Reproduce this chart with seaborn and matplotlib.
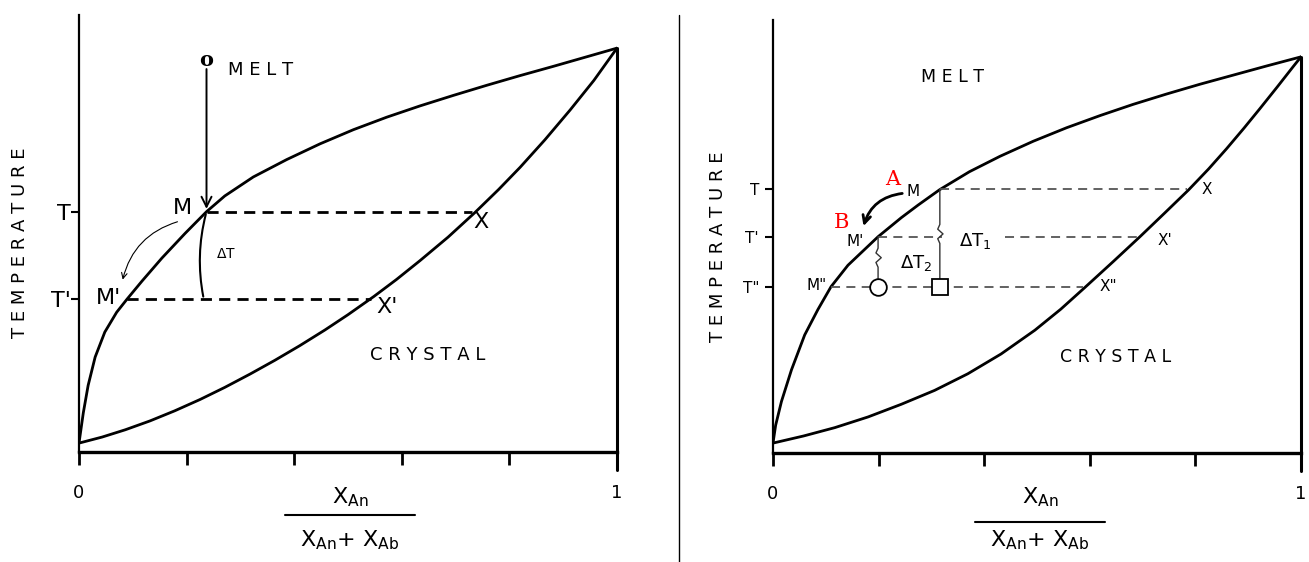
import matplotlib
matplotlib.use("Agg")
import matplotlib.pyplot as plt
import seaborn as sns
from matplotlib.lines import Line2D
from matplotlib.patches import FancyArrowPatch

# x = X_An / (X_An + X_Ab), T scaled so the x axis is 0 and the pure An end is 1
left_liq_x = [0.0, 0.008, 0.017, 0.030, 0.048, 0.070, 0.089, 0.117, 0.154, 0.197, 0.237,
              0.271, 0.324, 0.386, 0.448, 0.51, 0.572, 0.634, 0.696, 0.758, 0.82, 0.882, 1.0]
left_liq_t = [0.022, 0.097, 0.165, 0.235, 0.297, 0.346, 0.378, 0.423, 0.48, 0.541, 0.595,
              0.634, 0.681, 0.724, 0.763, 0.798, 0.829, 0.857, 0.883, 0.908, 0.932, 0.955, 1.0]
left_sol_x = [0.0, 0.043, 0.086, 0.132, 0.178, 0.225, 0.271, 0.318, 0.364, 0.41, 0.457, 0.50,
              0.548, 0.59, 0.634, 0.686, 0.736, 0.78, 0.82, 0.866, 0.913, 0.957, 1.0]
left_sol_t = [0.022, 0.037, 0.055, 0.077, 0.102, 0.130, 0.160, 0.193, 0.227, 0.263, 0.302, 0.340,
              0.385, 0.427, 0.474, 0.532, 0.593, 0.650, 0.705, 0.773, 0.847, 0.920, 1.0]

right_liq_x = [0.0, 0.005, 0.016, 0.035, 0.06, 0.085, 0.11, 0.142, 0.199, 0.243, 0.275, 0.316,
               0.372, 0.43, 0.493, 0.556, 0.62, 0.682, 0.745, 0.809, 0.872, 0.935, 1.0]
right_liq_t = [0.025, 0.07, 0.13, 0.21, 0.298, 0.362, 0.42, 0.474, 0.546, 0.594, 0.626, 0.665,
               0.71, 0.749, 0.787, 0.821, 0.852, 0.88, 0.906, 0.931, 0.954, 0.977, 1.0]
right_sol_x = [0.0, 0.058, 0.117, 0.18, 0.243, 0.306, 0.369, 0.432, 0.496, 0.545, 0.59, 0.645,
               0.695, 0.742, 0.787, 0.825, 0.859, 0.892, 0.922, 0.955, 0.985, 1.0]
right_sol_t = [0.025, 0.043, 0.064, 0.091, 0.123, 0.158, 0.2, 0.25, 0.31, 0.363, 0.417, 0.484,
               0.546, 0.606, 0.664, 0.717, 0.768, 0.82, 0.869, 0.924, 0.975, 1.0]

# tie lines: temperature levels, melt composition M, crystal composition X
left_levels = [0.595, 0.378]
left_m = [0.237, 0.089]
left_xc = [0.73, 0.542]
right_levels = [0.666, 0.546, 0.42]
right_m = [0.316, 0.199, 0.11]
right_xc = [0.785, 0.693, 0.588]

xticks = [0, 0.2, 0.4, 0.6, 0.8, 1.0]
xticklabels = ["0", "", "", "", "", "1"]

sns.set_style("white")
plt.rcParams["font.family"] = ["DejaVu Sans"]
plt.rcParams["mathtext.fontset"] = "dejavusans"
for key in ["text.color", "axes.labelcolor", "xtick.color", "ytick.color"]:
    plt.rcParams[key] = "black"

W, H = 1309, 562
fig = plt.figure(figsize=(13.09, 5.62), dpi=100)
axL = fig.add_axes([79 / W, (H - 452) / H, 538 / W, 437 / H])
axR = fig.add_axes([773 / W, (H - 453) / H, 528 / W, 433 / H])


def frame(ax, ytop, levels, labels, lsize, lpad):
    ax.set_xlim(0, 1)
    ax.set_ylim(0, ytop)
    ax.spines["top"].set_visible(False)
    ax.spines["right"].set_visible(False)
    ax.spines["left"].set_linewidth(1.6)
    ax.spines["bottom"].set_linewidth(2.4)
    ax.spines["left"].set_color("k")
    ax.spines["bottom"].set_color("k")
    ax.plot([1, 1], [-0.045, 1], color="k", lw=2.2, clip_on=False)
    ax.set_xticks(xticks)
    ax.set_xticklabels(xticklabels)
    ax.tick_params(axis="x", direction="out", length=9, width=2, pad=14,
                   labelsize=13, bottom=True)
    ax.set_yticks(levels)
    ax.set_yticklabels(labels)
    ax.tick_params(axis="y", direction="out", length=6, width=1.5, pad=lpad,
                   labelsize=lsize, left=True)
    ax.set_xlabel("")
    ax.set_ylabel("")


for ax, lx, lt, sx, st in [(axL, left_liq_x, left_liq_t, left_sol_x, left_sol_t),
                           (axR, right_liq_x, right_liq_t, right_sol_x, right_sol_t)]:
    sns.lineplot(x=lx, y=lt, ax=ax, color="k", lw=2, sort=False, estimator=None)
    sns.lineplot(x=sx, y=st, ax=ax, color="k", lw=2, sort=False, estimator=None)

frame(axL, 1.082, left_levels, ["T", "T'"], 16, 0)
frame(axR, 1.093, right_levels, ["T", "T'", 'T"'], 11, 4)

# ---- left panel
for t, m, xc in zip(left_levels, left_m, left_xc):
    axL.plot([m, xc], [t, t], color="k", lw=2, ls=(0, (4, 2.6)))
axL.annotate("", xy=(left_m[0], left_levels[0]), xytext=(left_m[0], 0.955),
             arrowprops=dict(arrowstyle="->", lw=1.4, color="k", mutation_scale=18))
axL.text(left_m[0], 0.97, "o", fontsize=15, fontweight="bold", family="DejaVu Serif",
         ha="center", va="center")
axL.text(0.277, 0.945, "M E L T", fontsize=13, ha="left", va="center")
axL.text(0.54, 0.24, "C R Y S T A L", fontsize=13, ha="left", va="center")
axL.text(0.192, left_levels[0] + 0.008, "M", fontsize=16, ha="center", va="center")
axL.text(0.054, left_levels[1] + 0.003, "M'", fontsize=16, ha="center", va="center")
axL.text(0.747, left_levels[0] - 0.025, "X", fontsize=16, ha="center", va="center")
axL.text(0.572, left_levels[1] - 0.02, "X'", fontsize=16, ha="center", va="center")
axL.add_patch(FancyArrowPatch((left_m[0], left_levels[0]), (left_m[0] - 0.005, left_levels[1]),
                              connectionstyle="arc3,rad=0.12", arrowstyle="-", lw=1.5, color="k"))
axL.text(0.255, 0.49, r"$\Delta$T", fontsize=10, ha="left", va="center")
axL.add_patch(FancyArrowPatch((0.188, 0.572), (0.08, 0.42),
                              connectionstyle="arc3,rad=0.3", arrowstyle="->",
                              lw=0.8, color="k", mutation_scale=10))

# ---- right panel
dash = (0, (5, 3.5))
axR.plot([right_m[0], right_xc[0]], [right_levels[0]] * 2, color="#555555", lw=1.3, ls=dash)
axR.plot([right_m[1], 0.32], [right_levels[1]] * 2, color="#555555", lw=1.3, ls=dash)
axR.plot([0.44, right_xc[1]], [right_levels[1]] * 2, color="#555555", lw=1.3, ls=dash)
axR.plot([right_m[2], right_xc[2]], [right_levels[2]] * 2, color="#555555", lw=1.3, ls=dash)


def brace(ax, x, top, bottom):
    mid = (top + bottom) / 2
    d = 0.012
    xs = [x, x, x - 0.004, x + 0.006, x - 0.004, x, x]
    ys = [top, mid + 2 * d, mid + d, mid, mid - d, mid - 2 * d, bottom]
    ax.plot(xs, ys, color="#333333", lw=1.0)


brace(axR, right_m[1], right_levels[1], right_levels[2] + 0.02)
brace(axR, right_m[0], right_levels[0], right_levels[2] + 0.02)
axR.plot([right_m[1]], [right_levels[2]], marker="o", ms=12, mfc="white", mec="k", mew=1.3)
axR.plot([right_m[0]], [right_levels[2]], marker="s", ms=11, mfc="white", mec="k", mew=1.3)

axR.text(0.28, 0.95, "M E L T", fontsize=12.5, ha="left", va="center")
axR.text(0.543, 0.242, "C R Y S T A L", fontsize=12.5, ha="left", va="center")
axR.text(0.266, right_levels[0] - 0.005, "M", fontsize=11, ha="center", va="center")
axR.text(0.155, right_levels[1] - 0.012, "M'", fontsize=11, ha="center", va="center")
axR.text(0.083, right_levels[2] + 0.003, 'M"', fontsize=11, ha="center", va="center")
axR.text(0.822, right_levels[0], "X", fontsize=11, ha="center", va="center")
axR.text(0.742, right_levels[1] - 0.01, "X'", fontsize=11, ha="center", va="center")
axR.text(0.636, right_levels[2], 'X"', fontsize=11, ha="center", va="center")
axR.text(0.227, right_levels[0] + 0.025, "A", fontsize=15, color="red",
         family="DejaVu Serif", ha="center", va="center")
axR.text(0.13, right_levels[1] + 0.035, "B", fontsize=15, color="red",
         family="DejaVu Serif", ha="center", va="center")
axR.text(0.24, 0.48, r"$\Delta$T$_2$", fontsize=13, ha="left", va="center")
axR.text(0.352, 0.535, r"$\Delta$T$_1$", fontsize=13, ha="left", va="center")
axR.add_patch(FancyArrowPatch((0.25, right_levels[0] - 0.01), (0.17, right_levels[1] + 0.02),
                              connectionstyle="arc3,rad=0.35", arrowstyle="->",
                              lw=2, color="k", mutation_scale=14))

# ---- axis titles
for xc, num_y, bar_y, bar_x0, bar_x1 in [(350, 497, 515, 285, 415), (1040, 497, 522, 975, 1105)]:
    fig.text(xc / W, (H - num_y) / H, r"X$_{\mathregular{An}}$", fontsize=16,
             ha="center", va="center")
    fig.add_artist(Line2D([bar_x0 / W, bar_x1 / W], [(H - bar_y) / H] * 2, color="k", lw=1.5))
    fig.text(xc / W, (H - 540) / H, r"X$_{\mathregular{An}}$+ X$_{\mathregular{Ab}}$",
             fontsize=16, ha="center", va="center")

fig.text(20 / W, (H - 243) / H, "T E M P E R A T U R E", fontsize=13, rotation=90,
         ha="center", va="center")
fig.text(718 / W, (H - 247) / H, "T E M P E R A T U R E", fontsize=13, rotation=90,
         ha="center", va="center")

fig.add_artist(Line2D([679 / W, 679 / W], [0, (H - 15) / H], color="k", lw=1))

fig.savefig("out.png", dpi=100)
